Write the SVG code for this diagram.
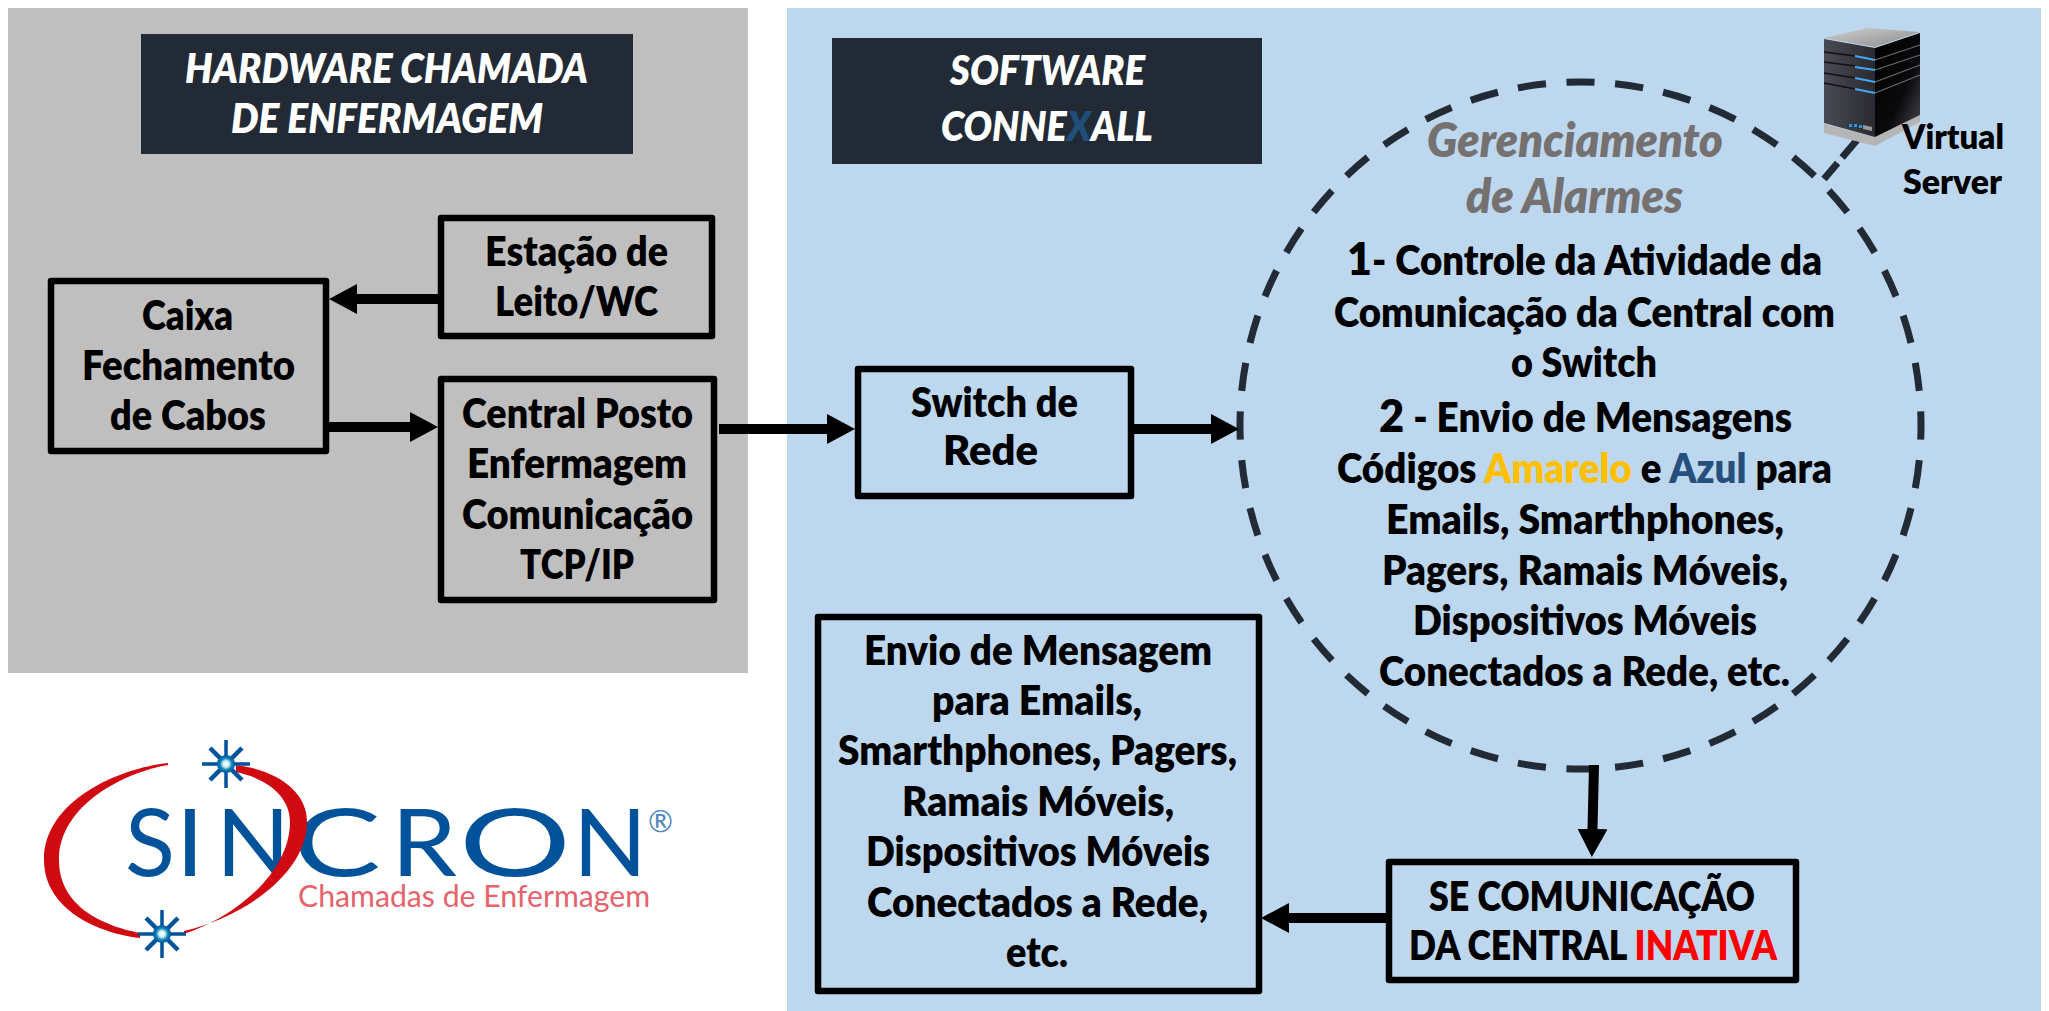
<svg xmlns="http://www.w3.org/2000/svg" width="2049" height="1011" viewBox="0 0 2049 1011">
<style>
text{font-family:Lato,"Open Sans","Liberation Sans",sans-serif;font-weight:800;fill:#000;font-size:41px}
.t{fill:#fff;font-style:italic}
.box{fill:none;stroke:#000;stroke-width:6.5;stroke-linejoin:round}
.c{stroke:#000;stroke-width:10;fill:none;marker-end:url(#ah)}
.dash{stroke:#222a35;stroke-width:7;fill:none}
.band{fill:#222a35}
.g{fill:#767171;font-style:italic;font-size:47px}
.big{font-size:46px}
.v{font-size:33px}
.s{font-size:94px;font-weight:400;fill:#00529b}
</style>
<defs>
<marker id="ah" markerUnits="userSpaceOnUse" markerWidth="28" markerHeight="30" refX="0" refY="15" orient="auto"><path d="M0,0L28,15L0,30Z" fill="#000"/></marker>
<linearGradient id="sl" x1="0" x2="1" y1="0" y2="0"><stop offset="0" stop-color="#4a4a55"/><stop offset="1" stop-color="#2a2a30"/></linearGradient>
<linearGradient id="sr" x1="0" x2="1" y1="0" y2="1"><stop offset="0" stop-color="#000"/><stop offset=".6" stop-color="#0a0a0c"/><stop offset="1" stop-color="#4a4a55"/></linearGradient>
<linearGradient id="st" x1="0" x2="1" y1="0" y2="1"><stop offset="0" stop-color="#d0d0d0"/><stop offset="1" stop-color="#8a8a8a"/></linearGradient>
<radialGradient id="sc"><stop offset="0" stop-color="#fff"/><stop offset=".35" stop-color="#cfeef5"/><stop offset=".65" stop-color="#0c86b8"/><stop offset="1" stop-color="#00529b"/></radialGradient>
<g id="star" stroke="#00529b" fill="none">
<path d="M0,-24V24M-24,0H24" stroke-width="3.5"/>
<path d="M-16,-16L16,16M16,-16L-16,16" stroke-width="4.5"/>
<circle r="9" fill="url(#sc)" stroke="none"/>
</g>
</defs>

<rect id="panel-hardware" x="8" y="8" width="740" height="665" fill="#bfbfbf"/>
<rect id="panel-software" x="787" y="8" width="1254" height="1003" fill="#bdd7ee"/>

<g id="title-hardware">
<rect class="band" x="141" y="34" width="492" height="120"/>
<text class="t" x="185" y="83" textLength="403" lengthAdjust="spacingAndGlyphs">HARDWARE CHAMADA</text>
<text class="t" x="231" y="133" textLength="312" lengthAdjust="spacingAndGlyphs">DE ENFERMAGEM</text>
</g>
<g id="title-software">
<rect class="band" x="832" y="38" width="430" height="126"/>
<text class="t" x="950" y="85" textLength="195" lengthAdjust="spacingAndGlyphs">SOFTWARE</text>
<text class="t" x="941" y="141" textLength="212" lengthAdjust="spacingAndGlyphs">CONNE<tspan style="fill:#1f4e79">X</tspan>ALL</text>
</g>

<g id="node-estacao">
<rect class="box" x="441" y="218" width="271" height="118"/>
<text x="485" y="266" textLength="183" lengthAdjust="spacingAndGlyphs">Estação de</text>
<text x="495" y="316" textLength="163" lengthAdjust="spacingAndGlyphs">Leito/WC</text>
</g>
<g id="node-caixa">
<rect class="box" x="51" y="281" width="275" height="170"/>
<text x="142" y="330" textLength="91" lengthAdjust="spacingAndGlyphs">Caixa</text>
<text x="82" y="380" textLength="213" lengthAdjust="spacingAndGlyphs">Fechamento</text>
<text x="110" y="430" textLength="156" lengthAdjust="spacingAndGlyphs">de Cabos</text>
</g>
<g id="node-central">
<rect class="box" x="441" y="379" width="273" height="221"/>
<text x="462" y="428" textLength="231" lengthAdjust="spacingAndGlyphs">Central Posto</text>
<text x="467" y="478" textLength="220" lengthAdjust="spacingAndGlyphs">Enfermagem</text>
<text x="462" y="529" textLength="231" lengthAdjust="spacingAndGlyphs">Comunicação</text>
<text x="520" y="579" textLength="114" lengthAdjust="spacingAndGlyphs">TCP/IP</text>
</g>
<g id="node-switch">
<rect class="box" x="858" y="369" width="273" height="127"/>
<text x="911" y="417" textLength="167" lengthAdjust="spacingAndGlyphs">Switch de</text>
<text x="943" y="465" textLength="95" lengthAdjust="spacingAndGlyphs">Rede</text>
</g>

<g id="node-gerenciamento">
<ellipse class="dash" cx="1580.5" cy="425.5" rx="340.5" ry="343.5" pathLength="44" stroke-dasharray=".58 .42" stroke-dashoffset=".29"/>
<text class="g" x="1427" y="157" textLength="296" lengthAdjust="spacingAndGlyphs">Gerenciamento</text>
<text class="g" x="1466" y="213" textLength="217" lengthAdjust="spacingAndGlyphs">de Alarmes</text>
<text x="1347" y="275" textLength="475" lengthAdjust="spacingAndGlyphs"><tspan class="big">1</tspan>- Controle da Atividade da</text>
<text x="1334" y="327" textLength="501" lengthAdjust="spacingAndGlyphs">Comunicação da Central com</text>
<text x="1511" y="377" textLength="146" lengthAdjust="spacingAndGlyphs">o Switch</text>
<text x="1379" y="432" textLength="413" lengthAdjust="spacingAndGlyphs"><tspan class="big">2</tspan> - Envio de Mensagens</text>
<text x="1337" y="483" textLength="495" lengthAdjust="spacingAndGlyphs">Códigos <tspan style="fill:#ffc000">Amarelo</tspan> e <tspan style="fill:#264f7d">Azul</tspan> para</text>
<text x="1386" y="534" textLength="398" lengthAdjust="spacingAndGlyphs">Emails, Smarthphones,</text>
<text x="1382" y="585" textLength="406" lengthAdjust="spacingAndGlyphs">Pagers, Ramais Móveis,</text>
<text x="1413" y="635" textLength="344" lengthAdjust="spacingAndGlyphs">Dispositivos Móveis</text>
<text x="1379" y="686" textLength="411" lengthAdjust="spacingAndGlyphs">Conectados a Rede, etc.</text>
</g>

<g id="node-mensagem">
<rect class="box" x="818" y="617" width="441" height="374"/>
<text x="864" y="665" textLength="348" lengthAdjust="spacingAndGlyphs">Envio de Mensagem</text>
<text x="932" y="715" textLength="210" lengthAdjust="spacingAndGlyphs">para Emails,</text>
<text x="838" y="765" textLength="399" lengthAdjust="spacingAndGlyphs">Smarthphones, Pagers,</text>
<text x="902" y="816" textLength="272" lengthAdjust="spacingAndGlyphs">Ramais Móveis,</text>
<text x="866" y="866" textLength="344" lengthAdjust="spacingAndGlyphs">Dispositivos Móveis</text>
<text x="867" y="917" textLength="341" lengthAdjust="spacingAndGlyphs">Conectados a Rede,</text>
<text x="1006" y="967" textLength="62" lengthAdjust="spacingAndGlyphs">etc.</text>
</g>
<g id="node-inativa">
<rect class="box" x="1389" y="862" width="407" height="118"/>
<text x="1429" y="911" textLength="326" lengthAdjust="spacingAndGlyphs">SE COMUNICAÇÃO</text>
<text x="1409" y="960" textLength="368" lengthAdjust="spacingAndGlyphs">DA CENTRAL <tspan style="fill:#ff0000">INATIVA</tspan></text>
</g>

<g id="connectors">
<line class="c" x1="438" y1="299" x2="357" y2="299"/>
<line class="c" x1="329" y1="427" x2="410" y2="427"/>
<line class="c" x1="719" y1="429" x2="827" y2="429"/>
<line class="c" x1="1134" y1="429" x2="1211" y2="429"/>
<line class="c" x1="1594" y1="765" x2="1592.5" y2="829"/>
<line class="c" x1="1386" y1="918" x2="1289" y2="918"/>
<line class="dash" x1="1857" y1="140" x2="1824" y2="179" stroke-dasharray="23 7"/>
</g>

<g id="node-server">
<path d="M1824,124L1875,137L1920,115V122L1875,146L1824,133Z" fill="#b5b5b5"/>
<path d="M1824,38L1867,28L1920,32L1875,47Z" fill="url(#st)"/>
<path d="M1824,39L1875,48V137L1824,123Z" fill="url(#sl)"/>
<path d="M1875,48L1920,33V115L1875,137Z" fill="url(#sr)"/>
<g stroke="#111" stroke-width="1.5" fill="none">
<path d="M1824,52L1855,56"/><path d="M1824,62L1855,66"/><path d="M1824,73L1855,78"/><path d="M1824,83L1855,89"/>
</g>
<g stroke="#3fa9f5" stroke-width="2" fill="none">
<path d="M1855,56L1875,60"/><path d="M1855,67L1875,70"/><path d="M1855,78L1875,82"/><path d="M1855,89L1875,93"/>
</g>
<g stroke="#6a6a72" stroke-width="1.2" fill="none">
<path d="M1875,60L1920,45"/><path d="M1875,70L1920,55"/><path d="M1875,82L1920,65"/><path d="M1875,93L1920,75"/>
</g>
<path d="M1849,124h3v3h-3zM1854,124h3v3h-3zM1859,125h3v3h-3z" fill="#1e9be8"/>
<path d="M1863,125l9,2v4l-9,-2z" fill="#999"/>
<text class="v" x="1902" y="149" textLength="102" lengthAdjust="spacingAndGlyphs">Virtual</text>
<text class="v" x="1903" y="194" textLength="99" lengthAdjust="spacingAndGlyphs">Server</text>
</g>

<g id="logo">
<text class="s" y="876"><tspan x="125" textLength="50" lengthAdjust="spacingAndGlyphs">S</tspan><tspan x="176" textLength="28" lengthAdjust="spacingAndGlyphs">I</tspan><tspan x="216" textLength="74" lengthAdjust="spacingAndGlyphs">N</tspan><tspan x="293" textLength="88" lengthAdjust="spacingAndGlyphs">C</tspan><tspan x="391" textLength="66" lengthAdjust="spacingAndGlyphs">R</tspan><tspan x="459" textLength="112" lengthAdjust="spacingAndGlyphs">O</tspan><tspan x="573" textLength="74" lengthAdjust="spacingAndGlyphs">N</tspan></text>
<text x="648" y="832" style="font-size:30px;font-weight:400;fill:#4f86bf">®</text>
<text x="298" y="907" style="font-size:30px;font-weight:400;fill:#e5636c" textLength="352" lengthAdjust="spacingAndGlyphs">Chamadas de Enfermagem</text>
<path d="M168,763C120,768 44,800 44,860C44,905 90,932 140,938L140,933C100,925 59,905 59,860C59,805 125,772 168,765Z" fill="#cf0a10"/>
<path d="M236,765C275,770 307,790 307,822C307,870 250,915 184,931L184,934C240,915 290,870 290,822C290,795 265,778 236,772Z" fill="#cf0a10"/>
<use href="#star" x="226" y="764"/>
<use href="#star" x="162" y="934"/>
</g>
</svg>
